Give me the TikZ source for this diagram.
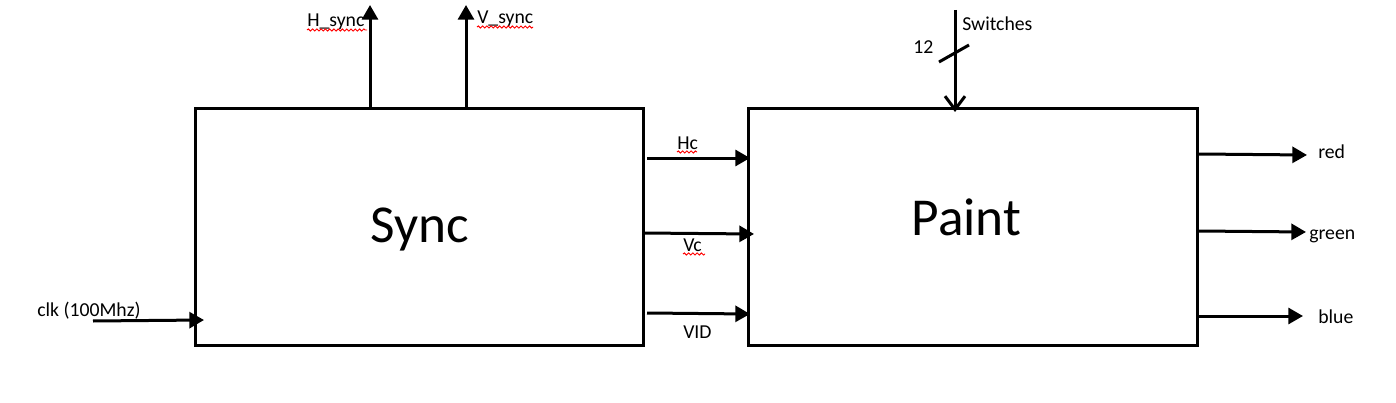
\documentclass[tikz,border=0pt]{standalone}
\usepackage{fontspec}
\setmainfont{Carlito}
\usetikzlibrary{arrows.meta,decorations.pathmorphing}
\begin{document}
\begin{tikzpicture}[x=0.75pt,y=-0.75pt,
  blockbox/.style={draw,line width=2.25pt,inner sep=0pt,minimum width=#1,minimum height=177pt},
  wire/.style={line width=2.25pt},
  arr/.style={wire,-{Triangle[length=11pt,width=12pt]}},
  barb/.style={wire,-{Straight Barb[length=10pt,width=15pt]}},
  lbl/.style={font=\fontsize{14.8}{17}\selectfont,inner sep=0pt,anchor=base west},
  big/.style={font=\fontsize{40}{48}\selectfont,inner sep=0pt,anchor=base},
  squig/.style={draw=red,line width=0.7pt,decorate,decoration={snake,amplitude=0.8pt,segment length=3.2pt}}]
\useasboundingbox (0,0) rectangle (1396,403);

% blocks
\node[blockbox=336pt] (sync) at (419,227) {};
\node[blockbox=336.75pt] (paint) at (972.5,227) {};
\node[big] (synct) at (419.5,242) {Sync};
\node[big] (paintt) at (966.5,235) {Paint};

% top outputs of Sync
\coordinate (hs) at (370,5);
\coordinate (vs) at (466,5);
\draw[arr] (sync.north -| hs) -- (hs);
\draw[arr] (sync.north -| vs) -- (vs);
\node[lbl] (hsl) at (307,27) {H\_sync};
\node[lbl] (vsl) at (477,24) {V\_sync};
\draw[squig] (307,30) -- (367,30);
\draw[squig] (477,27) -- (533,27);

% switches input
\coordinate (sw) at (955,10);
\coordinate (swtip) at (955,112);
\draw[barb] (sw) -- (swtip);
\coordinate (sl1) at (939,62);
\coordinate (sl2) at (969,45);
\draw[wire] (sl1) -- (sl2);
\node[lbl] (swl) at (962,31) {Switches};
\node[lbl] (n12) at (913,54) {12};

% clk
\coordinate (clk0) at (93,321);
\coordinate (clk1) at (204,320);
\draw[arr] (clk0) -- (clk1);
\node[lbl] (clkl) at (37,316) {clk (100Mhz)};

% Sync -> Paint
\coordinate (hc0) at (647,158);
\coordinate (hc1) at (750,158);
\coordinate (vc0) at (643,233);
\coordinate (vc1) at (754,234);
\coordinate (vd0) at (647,313);
\coordinate (vd1) at (750,314);
\draw[arr] (hc0) -- (hc1);
\draw[arr] (vc0) -- (vc1);
\draw[arr] (vd0) -- (vd1);
\node[lbl] (hcl) at (677,149) {Hc};
\node[lbl] (vcl) at (683,251) {Vc};
\node[lbl] (vdl) at (683,338) {VID};
\draw[squig] (677,152) -- (697,152);
\draw[squig] (683,254) -- (705,254);

% Paint outputs
\coordinate (r1) at (1307,155);
\coordinate (g1) at (1306,232);
\coordinate (b1) at (1303,316);
\draw[arr] (paint.east |- 0,154) -- (r1);
\draw[arr] (paint.east |- 0,231) -- (g1);
\draw[arr] (paint.east |- 0,316) -- (b1);
\node[lbl] (rl) at (1318,158) {red};
\node[lbl] (gl) at (1309,239) {green};
\node[lbl] (bl) at (1318,323) {blue};
\end{tikzpicture}
\end{document}
